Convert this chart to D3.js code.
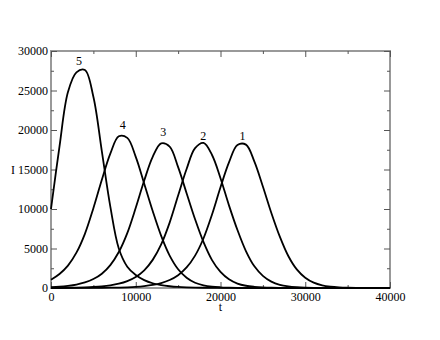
<!DOCTYPE html>
<meta charset="utf-8">
<style>
  body {
    margin: 0;
    background: #fff;
    font-family: 'Liberation Serif', 'Times New Roman', serif;
  }

  .axis path {
    display: none;
  }

  .axis line {
    stroke: #555;
    stroke-width: 1;
  }

  .axis text {
    font-family: 'Liberation Serif', serif;
    font-size: 12px;
    fill: #000;
  }

  .frame {
    fill: none;
    stroke: #999;
    stroke-width: 2;
  }

  .curve {
    fill: none;
    stroke: #000;
    stroke-width: 1.8;
  }

  .curveLabel,
  .axisLabel {
    font-family: 'Liberation Serif', serif;
    font-size: 12px;
  }
</style>

<body>
  <div id="chart"></div>
  <script src="https://d3js.org/d3.v7.min.js"></script>

  <script>
    // time samples (t)
    var tValues = [0, 1000, 2000, 3000, 4000, 5000, 6000, 7000, 8000, 9000,
      10000, 11000, 12000, 13000, 14000, 15000, 16000, 17000, 18000, 19000,
      20000, 21000, 22000, 23000, 24000, 25000, 26000, 27000, 28000, 29000,
      30000, 31000, 32000, 33000, 34000, 35000, 36000, 37000, 38000, 39000, 40000];

    // I for each run
    var series1 = [2, 3, 4, 6, 9, 15, 23, 36, 58, 90,
      145, 240, 390, 630, 1015, 1625, 2600, 4100, 6300, 9300,
      12750, 15900, 18100, 18150, 16000, 12850, 9500, 6500, 4050, 2350,
      1300, 675, 340, 175, 90, 45, 22, 11, 6, 3, 0];
    var series2 = [12, 20, 31, 50, 78, 124, 204, 336, 540, 874,
      1400, 2240, 3560, 5520, 8280, 11700, 15060, 17700, 18360, 16840,
      13900, 10460, 7340, 4680, 2740, 1540, 810, 406, 208, 108,
      54, 27, 14, 7, 0, 0, 0, 0, 0, 0, 0];
    var series3 = [100, 160, 270, 435, 705, 1130, 1810, 2900, 4550, 6950,
      10150, 13600, 16600, 18300, 17900, 15300, 12000, 8700, 5800, 3530,
      2030, 1100, 560, 285, 150, 75, 37, 19, 10, 5,
      0, 0, 0, 0, 0, 0, 0, 0, 0, 0, 0];
    var series4 = [1050, 1780, 2840, 4470, 6860, 10100, 13700, 17000, 19200, 19000,
      16600, 13200, 9740, 6600, 4100, 2370, 1300, 670, 340, 170,
      90, 50, 22, 11, 6, 0, 0, 0, 0, 0,
      0, 0, 0, 0, 0, 0, 0, 0, 0, 0, 0];
    var series5 = [10000, 17900, 24800, 27300, 27600, 24200, 17300, 10300, 5000, 2700,
      1650, 1000, 600, 360, 220, 130, 80, 50, 30, 20,
      10, 6, 4, 2, 1, 0, 0, 0, 0, 0,
      0, 0, 0, 0, 0, 0, 0, 0, 0, 0, 0];

    var seriesList = [series1, series2, series3, series4, series5];

    // curve labels and where they sit (data units)
    var labelNames = ["1", "2", "3", "4", "5"];
    var labelT = [22600, 17970, 13250, 8460, 3300];
    var labelI = [19270, 19300, 19780, 20670, 28770];

    // tick values
    var xMajor = [0, 10000, 20000, 30000, 40000];
    var xMinor = [5000, 15000, 25000, 35000];
    var yMajor = [0, 5000, 10000, 15000, 20000, 25000, 30000];
    var yMinor = [2500, 7500, 12500, 17500, 22500, 27500];

    var width = 440,
      height = 340,
      margin = {
        top: 51,
        right: 50,
        bottom: 52,
        left: 51
      };

    var svg = d3.select("#chart")
      .append("svg")
      .attr("width", width)
      .attr("height", height);

    var xScale = d3.scaleLinear().domain([0, 40000]).range([margin.left, width - margin.right]);
    var yScale = d3.scaleLinear().domain([0, 30000]).range([height - margin.bottom, margin.top]);

    var x0 = xScale.range()[0],
      x1 = xScale.range()[1],
      y0 = yScale.range()[0],
      y1 = yScale.range()[1];

    // frame
    svg.append("rect")
      .attr("class", "frame")
      .attr("x", x0)
      .attr("y", y1)
      .attr("width", x1 - x0)
      .attr("height", y0 - y1);

    // bottom axis with labels, ticks pointing inward
    svg.append("g")
      .attr("class", "x axis")
      .attr("transform", `translate(0,${y0})`)
      .call(d3.axisBottom(xScale).tickValues(xMajor).tickSize(-6).tickSizeOuter(0).tickPadding(4).tickFormat(d3.format("d")));
    svg.append("g")
      .attr("class", "x axis")
      .attr("transform", `translate(0,${y0})`)
      .call(d3.axisBottom(xScale).tickValues(xMinor).tickSize(-3).tickSizeOuter(0).tickFormat(""));

    // top axis, ticks only
    svg.append("g")
      .attr("class", "x axis")
      .attr("transform", `translate(0,${y1})`)
      .call(d3.axisTop(xScale).tickValues(xMajor).tickSize(-6).tickSizeOuter(0).tickFormat(""));
    svg.append("g")
      .attr("class", "x axis")
      .attr("transform", `translate(0,${y1})`)
      .call(d3.axisTop(xScale).tickValues(xMinor).tickSize(-3).tickSizeOuter(0).tickFormat(""));

    // left axis with labels
    svg.append("g")
      .attr("class", "y axis")
      .attr("transform", `translate(${x0},0)`)
      .call(d3.axisLeft(yScale).tickValues(yMajor).tickSize(-6).tickSizeOuter(0).tickPadding(3).tickFormat(d3.format("d")));
    svg.append("g")
      .attr("class", "y axis")
      .attr("transform", `translate(${x0},0)`)
      .call(d3.axisLeft(yScale).tickValues(yMinor).tickSize(-3).tickSizeOuter(0).tickFormat(""));

    // right axis, ticks only
    svg.append("g")
      .attr("class", "y axis")
      .attr("transform", `translate(${x1},0)`)
      .call(d3.axisRight(yScale).tickValues(yMajor).tickSize(-6).tickSizeOuter(0).tickFormat(""));
    svg.append("g")
      .attr("class", "y axis")
      .attr("transform", `translate(${x1},0)`)
      .call(d3.axisRight(yScale).tickValues(yMinor).tickSize(-3).tickSizeOuter(0).tickFormat(""));

    // curves
    var line = d3.line()
      .x(d => xScale(d[0]))
      .y(d => yScale(d[1]))
      .curve(d3.curveCatmullRom.alpha(0.5));

    svg.selectAll(".curve")
      .data(seriesList)
      .enter()
      .append("path")
      .attr("class", "curve")
      .attr("d", s => line(tValues.map((t, i) => [t, s[i]])));

    // curve labels
    svg.selectAll(".curveLabel")
      .data(labelNames)
      .enter()
      .append("text")
      .attr("class", "curveLabel")
      .attr("x", (d, i) => xScale(labelT[i]))
      .attr("y", (d, i) => yScale(labelI[i]))
      .attr("dy", "0.35em")
      .attr("text-anchor", "middle")
      .text(d => d);

    // axis labels
    svg.append("text")
      .attr("class", "axisLabel")
      .attr("x", (x0 + x1) / 2)
      .attr("y", y0 + 23)
      .attr("text-anchor", "middle")
      .text("t");

    svg.append("text")
      .attr("class", "axisLabel")
      .attr("x", 13)
      .attr("y", (y0 + y1) / 2)
      .attr("dy", "0.35em")
      .attr("text-anchor", "middle")
      .text("I");
  </script>
</body>
